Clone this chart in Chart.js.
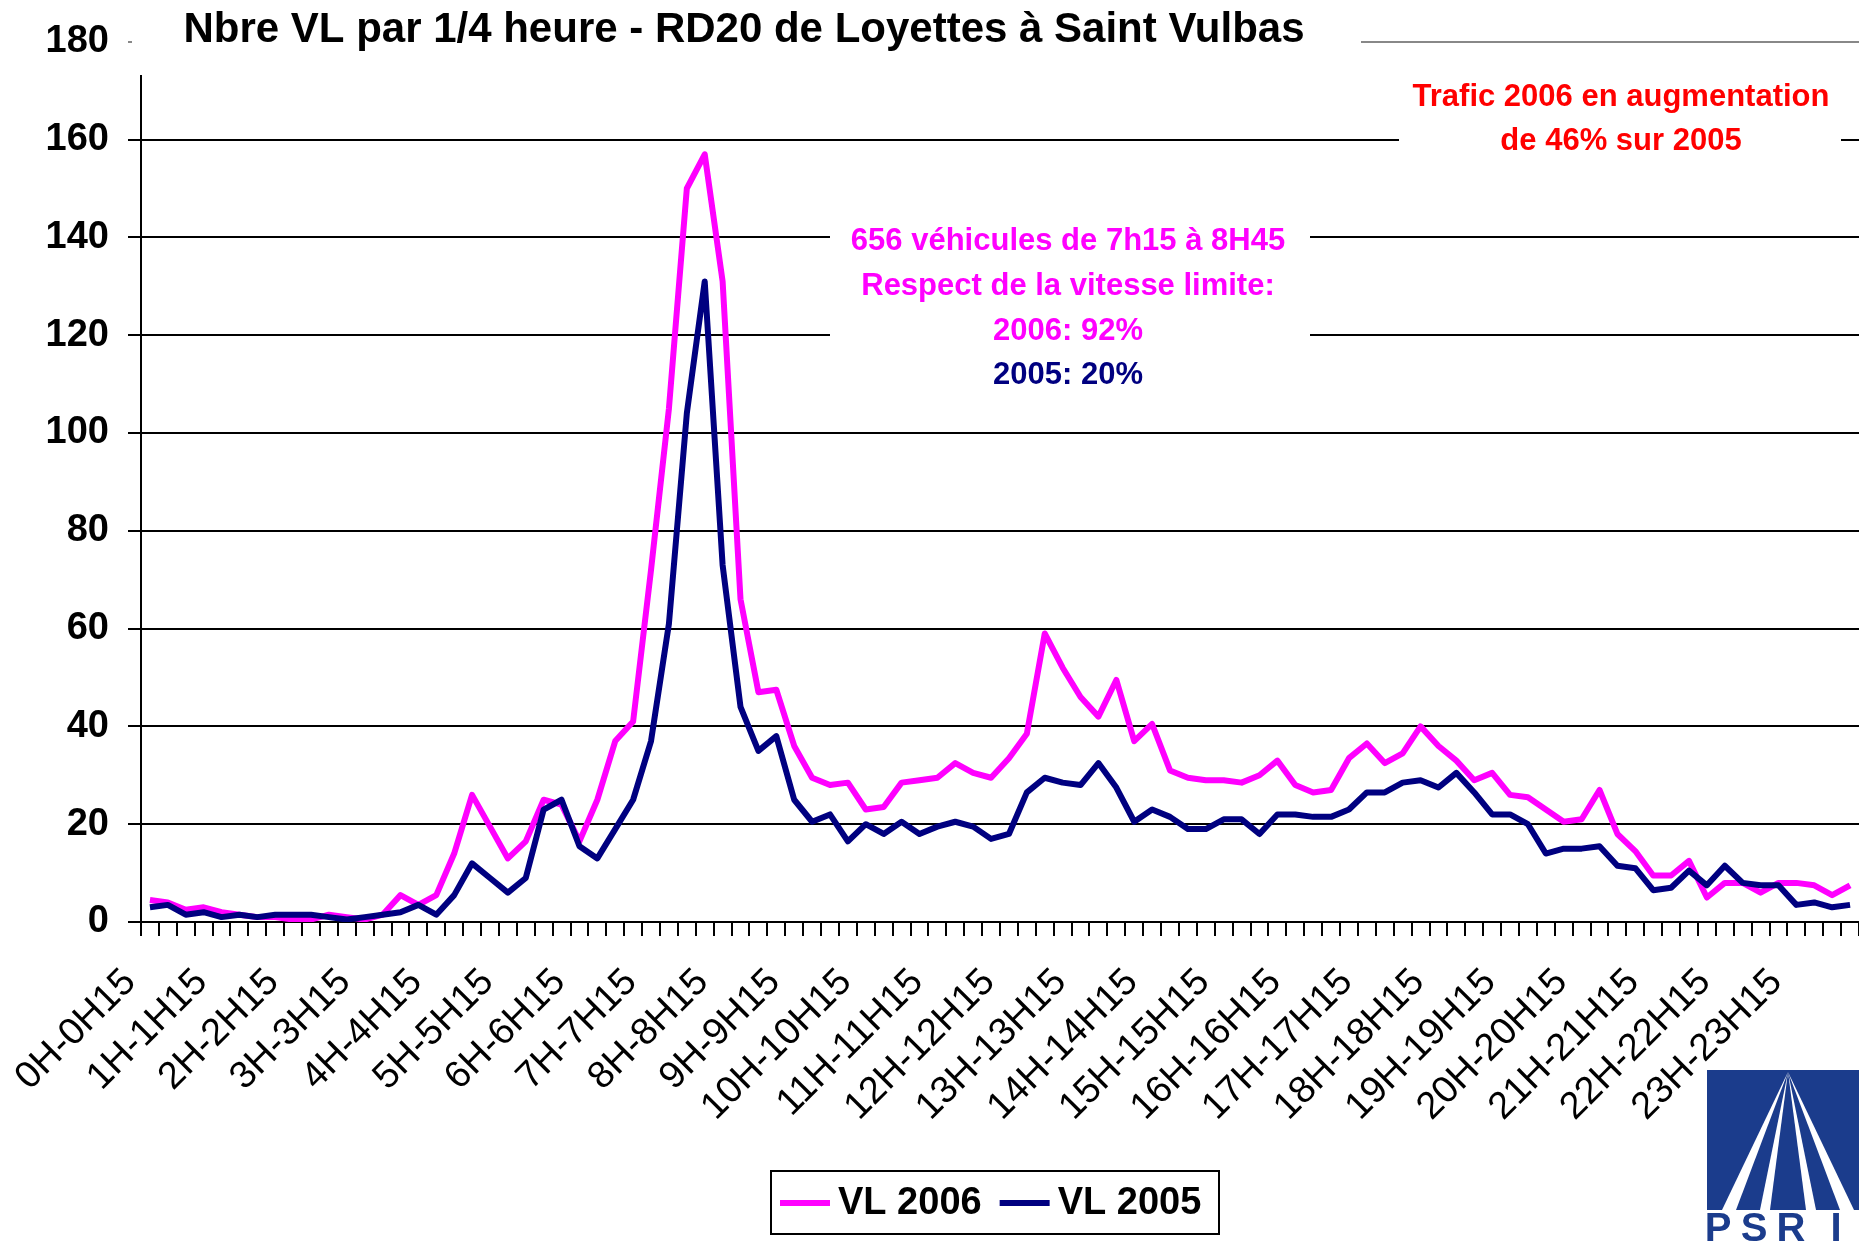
<!DOCTYPE html>
<html>
<head>
<meta charset="utf-8">
<script src="https://cdn.jsdelivr.net/npm/chart.js@4.4.1/dist/chart.umd.min.js"></script>
<style>
    html, body { margin: 0; padding: 0; background: #fff; overflow: hidden; }
    canvas { display: block; }
</style>
</head>
<body>
<canvas id="trafic" width="1859" height="1242"></canvas>
<script>
// one label per hour, the chart shows every 4th quarter
const hourLabels = ['0H-0H15', '1H-1H15', '2H-2H15', '3H-3H15', '4H-4H15', '5H-5H15',
    '6H-6H15', '7H-7H15', '8H-8H15', '9H-9H15', '10H-10H15', '11H-11H15',
    '12H-12H15', '13H-13H15', '14H-14H15', '15H-15H15', '16H-16H15', '17H-17H15',
    '18H-18H15', '19H-19H15', '20H-20H15', '21H-21H15', '22H-22H15', '23H-23H15'];

// vehicles per quarter hour
const vl2006 = [4.5, 4, 2.5, 3, 2, 1.5, 1, 1, 0.5, 0.5, 1.5, 1,
    0.5, 1.5, 5.5, 3.5, 5.5, 14, 26, 19.5, 13, 16.5, 25, 24,
    16.5, 25, 37, 41, 72, 105, 150, 157, 131, 66, 47, 47.5,
    36, 29.5, 28, 28.5, 23, 23.5, 28.5, 29, 29.5, 32.5, 30.5, 29.5,
    33.5, 38.5, 59, 52, 46, 42, 49.5, 37, 40.5, 31, 29.5, 29,
    29, 28.5, 30, 33, 28, 26.5, 27, 33.5, 36.5, 32.5, 34.5, 40,
    36, 33, 29, 30.5, 26, 25.5, 23, 20.5, 21, 27, 18, 14.5,
    9.5, 9.5, 12.5, 5, 8, 8, 6, 8, 8, 7.5, 5.5, 7.5];

const vl2005 = [3, 3.5, 1.5, 2, 1, 1.5, 1, 1.5, 1.5, 1.5, 1, 0.5,
    1, 1.5, 2, 3.5, 1.5, 5.5, 12, 9, 6, 9, 23, 25,
    15.5, 13, 19, 25, 37, 61, 104, 131, 73, 44, 35, 38,
    25, 20.5, 22, 16.5, 20, 18, 20.5, 18, 19.5, 20.5, 19.5, 17,
    18, 26.5, 29.5, 28.5, 28, 32.5, 27.5, 20.5, 23, 21.5, 19, 19,
    21, 21, 18, 22, 22, 21.5, 21.5, 23, 26.5, 26.5, 28.5, 29,
    27.5, 30.5, 26.5, 22, 22, 20, 14, 15, 15, 15.5, 11.5, 11,
    6.5, 7, 10.5, 7.5, 11.5, 8, 7.5, 7.5, 3.5, 4, 3, 3.5];

const quarters = [];
hourLabels.forEach((lbl, h) => {
    quarters.push(lbl, h + 'H15-' + h + 'H30', h + 'H30-' + h + 'H45', h + 'H45-' + (h + 1) + 'H');
});

const FONT = '"Liberation Sans", Arial, sans-serif';

const notes = {
    id: 'notes',
    beforeDatasetsDraw(chart) {
        // white text boxes sit over the grid
        const ctx = chart.ctx;
        ctx.save();
        ctx.fillStyle = '#fff';
        ctx.fillRect(132, 0, 1229, 75);
        ctx.fillRect(1399, 72, 442, 94);
        ctx.fillRect(830, 195, 480, 200);
        ctx.restore();
    },
    afterDraw(chart) {
        const ctx = chart.ctx;
        ctx.save();
        ctx.textAlign = 'center';
        ctx.textBaseline = 'middle';

        ctx.fillStyle = '#000';
        ctx.font = 'bold 42px ' + FONT;
        ctx.fillText('Nbre VL par 1/4 heure - RD20 de Loyettes à Saint Vulbas', 744, 30);

        ctx.font = 'bold 31px ' + FONT;
        ctx.fillStyle = '#FF0000';
        ctx.fillText('Trafic 2006 en augmentation', 1621, 97);
        ctx.fillText('de 46% sur 2005', 1621, 141);

        ctx.fillStyle = '#FF00FF';
        ctx.fillText('656 véhicules de 7h15 à 8H45', 1068, 241);
        ctx.fillText('Respect de la vitesse limite:', 1068, 286);
        ctx.fillText('2006: 92%', 1068, 331);
        ctx.fillStyle = '#000080';
        ctx.fillText('2005: 20%', 1068, 375);

        // legend box
        ctx.strokeStyle = '#000';
        ctx.lineWidth = 2;
        ctx.strokeRect(771, 1171, 448, 63);
        ctx.textAlign = 'left';
        ctx.font = 'bold 38px ' + FONT;
        let x = 780;
        chart.data.datasets.forEach(ds => {
            ctx.strokeStyle = ds.borderColor;
            ctx.lineWidth = 6;
            ctx.beginPath();
            ctx.moveTo(x, 1203);
            ctx.lineTo(x + 50, 1203);
            ctx.stroke();
            ctx.fillStyle = '#000';
            ctx.fillText(ds.label, x + 58, 1204);
            x += 58 + ctx.measureText(ds.label).width + 18;
        });

        // PSRI logo
        ctx.fillStyle = '#1B3C8C';
        ctx.fillRect(1707, 1070, 152, 140);
        ctx.fillStyle = '#fff';
        const apex = [1788, 1072];
        [[1722, 1736], [1760, 1770], [1806, 1816], [1840, 1854]].forEach(([a, b]) => {
            ctx.beginPath();
            ctx.moveTo(apex[0], apex[1]);
            ctx.lineTo(a, 1210);
            ctx.lineTo(b, 1210);
            ctx.closePath();
            ctx.fill();
        });
        ctx.fillStyle = '#1B3C8C';
        ctx.font = 'bold 40px ' + FONT;
        ctx.textAlign = 'center';
        ctx.fillText('P', 1718, 1230);
        ctx.fillText('S', 1754, 1230);
        ctx.fillText('R', 1791, 1230);
        ctx.fillText('I', 1836, 1230);
        ctx.restore();
    }
};

new Chart(document.getElementById('trafic').getContext('2d'), {
    type: 'line',
    data: {
        labels: quarters,
        datasets: [
            {
                label: 'VL 2006',
                data: vl2006,
                borderColor: '#FF00FF',
                borderWidth: 6,
                pointRadius: 0,
                tension: 0,
                borderJoinStyle: 'round',
                fill: false,
                order: 1
            },
            {
                label: 'VL 2005',
                data: vl2005,
                borderColor: '#000080',
                borderWidth: 6,
                pointRadius: 0,
                tension: 0,
                borderJoinStyle: 'round',
                fill: false,
                order: 0
            }
        ]
    },
    options: {
        responsive: false,
        animation: false,
        devicePixelRatio: 1,
        layout: { padding: { top: 39, left: 0, right: 0, bottom: 0 } },
        plugins: {
            legend: { display: false },
            title: { display: false },
            tooltip: { enabled: false }
        },
        scales: {
            x: {
                offset: true,
                grid: { offset: true, drawOnChartArea: false, drawTicks: true, tickLength: 14, color: '#000', lineWidth: 2 },
                border: { display: true, color: '#000', width: 2 },
                ticks: {
                    autoSkip: false,
                    minRotation: 45,
                    maxRotation: 45,
                    padding: 24,
                    labelOffset: -20,
                    color: '#000',
                    font: { family: FONT, size: 38 },
                    callback: (v, i) => (i % 4 === 0 ? quarters[i] : '')
                },
                afterFit: s => {
                    s.height = 320;
                    s.paddingLeft = 0;
                    s.paddingRight = 0;
                }
            },
            y: {
                min: 0,
                max: 180,
                grid: {
                    color: c => (c.tick && c.tick.value === 180 ? '#888' : '#000'),
                    lineWidth: 2,
                    tickLength: 13
                },
                border: { display: true, color: '#000', width: 2 },
                ticks: {
                    stepSize: 20,
                    padding: 19,
                    color: '#000',
                    font: { family: FONT, size: 38, weight: 'bold' }
                },
                afterFit: s => { s.width = 141; }
            }
        }
    },
    plugins: [notes]
});
</script>
</body>
</html>
